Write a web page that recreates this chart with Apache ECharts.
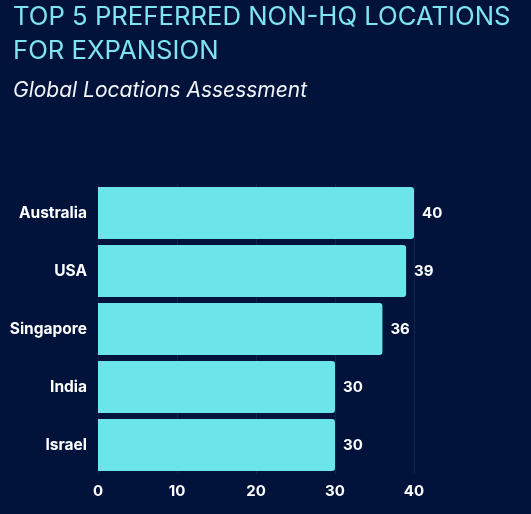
<!DOCTYPE html>
<html>
<head>
<meta charset="utf-8">
<script src="https://cdn.jsdelivr.net/npm/echarts@6/dist/echarts.min.js"></script>
<style>
  html, body { margin: 0; padding: 0; background: #02133b; }
  #chart { width: 531px; height: 514px; }
</style>
</head>
<body>
<div id="chart"></div>
<script>
// 数据
var locations = ['Australia', 'USA', 'Singapore', 'India', 'Israel'];
var scores = [40, 39, 36, 30, 30];
var ticks = [0, 10, 20, 30, 40];

var chart = echarts.init(document.getElementById('chart'));

var option = {
    backgroundColor: '#02133b',
    title: {
        text: 'TOP 5 PREFERRED NON-HQ LOCATIONS\nFOR EXPANSION',
        subtext: 'Global Locations Assessment',
        left: 8,
        top: -5,
        itemGap: 12,
        textStyle: {
            color: '#7fe3f2',
            fontFamily: 'Inter',
            fontWeight: 'normal',
            fontSize: 25.7,
            lineHeight: 34
        },
        subtextStyle: {
            color: '#f2f4f8',
            fontFamily: 'Inter',
            fontStyle: 'italic',
            fontSize: 21
        }
    },
    grid: {
        left: 98,
        right: 117,
        top: 184,
        bottom: 40
    },
    xAxis: {
        type: 'value',
        min: ticks[0],
        max: ticks[ticks.length - 1],
        interval: 10,
        axisLine: { show: false },
        axisTick: { show: false },
        splitLine: { lineStyle: { color: 'rgba(255,255,255,0.07)' } },
        axisLabel: {
            color: '#ffffff',
            fontFamily: 'Inter',
            fontWeight: 'bold',
            fontSize: 15,
            margin: 10
        }
    },
    yAxis: {
        type: 'category',
        inverse: true,
        data: locations,
        axisLine: { show: false },
        axisTick: { show: false },
        axisLabel: {
            color: '#ffffff',
            fontFamily: 'Inter',
            fontWeight: 'bold',
            fontSize: 15.5,
            margin: 11
        }
    },
    series: [{
        type: 'bar',
        data: scores,
        barCategoryGap: '10%',
        itemStyle: {
            color: '#6ce5ea',
            borderRadius: [0, 3, 3, 0]
        },
        label: {
            show: true,
            position: 'right',
            distance: 8,
            color: '#ffffff',
            fontFamily: 'Inter',
            fontWeight: 'bold',
            fontSize: 15
        }
    }]
};

chart.setOption(option);
</script>
</body>
</html>
